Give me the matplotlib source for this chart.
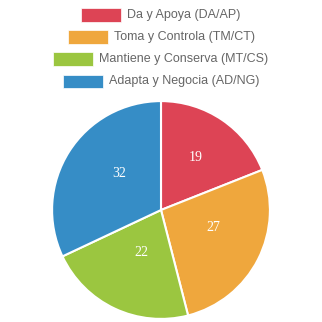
import matplotlib
matplotlib.use("Agg")
import matplotlib.pyplot as plt
from matplotlib.patches import Rectangle
from matplotlib.transforms import offset_copy

# Data
labels = ["Da y Apoya (DA/AP)", "Toma y Controla (TM/CT)",
          "Mantiene y Conserva (MT/CS)", "Adapta y Negocia (AD/NG)"]
values = [19, 27, 22, 32]
colors = ["#DD4455", "#EFA73D", "#9BC640", "#368DC6"]

W = H = 322
fig = plt.figure(figsize=(W / 100, H / 100), dpi=100)

# pie axes: centre (161, 210) px, radius 110 px
ax = fig.add_axes([51 / W, (H - 320) / H, 220 / W, 220 / H])
wedges, texts = ax.pie(values, colors=colors, startangle=90, counterclock=False,
                       labels=[str(v) for v in values], labeldistance=0.5,
                       wedgeprops=dict(edgecolor="white", linewidth=1.5))
# value labels sit a little right of / above the arc centre, like the original
shifted = offset_copy(ax.transData, fig=fig, x=4, y=7, units="dots")
for t in texts:
    t.set_transform(shifted)
    t.set_color("white")
    t.set_fontsize(10)
    t.set_family("Liberation Serif")
    t.set_ha("center")
    t.set_va("center")
ax.set_xlim(-1.01, 1.01)
ax.set_ylim(-1.01, 1.01)
ax.set_aspect("equal")
ax.axis("off")

# legend, one centred row per item
renderer = fig.canvas.get_renderer()
row_y = [15, 37, 59, 81]
box_w, box_h, gap = 40, 13, 6
for lab, col, y in zip(labels, colors, row_y):
    t = fig.text(0, 1 - y / H, lab, fontsize=9, color="#666666",
                 family="Liberation Sans", va="center", ha="left")
    tw = t.get_window_extent(renderer).width
    total = box_w + gap + tw
    x0 = 161 - total / 2
    fig.patches.append(Rectangle((x0 / W, 1 - (y + box_h / 2) / H), box_w / W, box_h / H,
                                 transform=fig.transFigure, facecolor=col,
                                 edgecolor="white", linewidth=0.5))
    t.set_x((x0 + box_w + gap) / W)

fig.savefig("out.png", dpi=100)
